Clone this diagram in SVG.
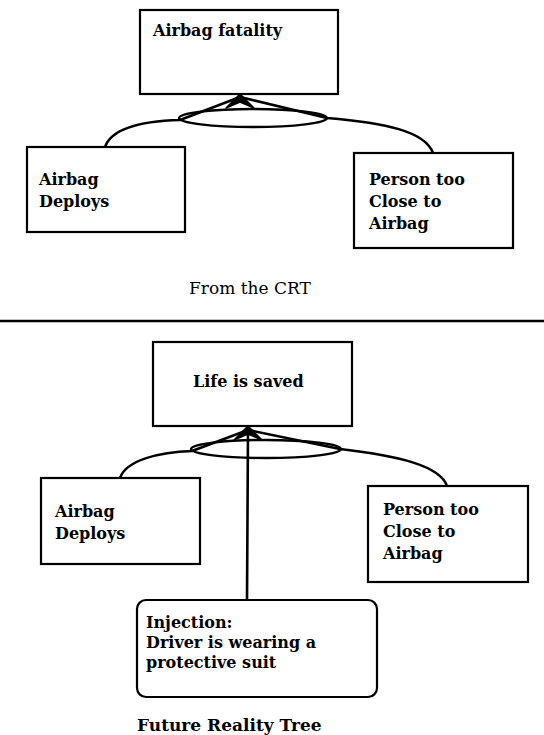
<svg xmlns="http://www.w3.org/2000/svg" width="544" height="735" viewBox="0 0 544 735">
<style>
.box{fill:#fff;stroke:#000;stroke-width:2.2}
.lbl{font-family:"DejaVu Serif","Liberation Serif",serif;font-weight:bold;font-size:16px;fill:#000}
.cap{font-family:"DejaVu Serif","Liberation Serif",serif;font-size:17px;fill:#000}
.con{fill:none;stroke:#000;stroke-width:2.6;stroke-linecap:round;stroke-linejoin:round}
.ell{fill:none;stroke:#000;stroke-width:2.4}
.head{fill:#000;stroke:#000;stroke-width:1.5;stroke-linejoin:round}
</style>
<rect width="544" height="735" fill="#fff"/>
<g id="connectors">
  <path class="con" d="M105,147 C112,127 145,121 180,120 L240,97"/>
  <path class="con" d="M433,153 C425,131 385,123 327,118 L240,97"/>
  <ellipse class="ell" cx="253" cy="118" rx="74" ry="9"/>
  <polygon class="head" points="240,94 226,108 240,102 254,108"/>
  <path class="con" d="M120,478 C126,460 160,452 192,451 L248,430"/>
  <path class="con" d="M447,486 C440,466 400,456 340,449 L248,430"/>
  <path class="con" d="M247,600 L248,430"/>
  <ellipse class="ell" cx="266" cy="449" rx="75" ry="9"/>
  <polygon class="head" points="248,426 234,440 248,434 262,440"/>
</g>
<g id="n_fatality">
  <rect class="box" x="140" y="10" width="198" height="84"/>
  <text class="lbl" x="153" y="36">Airbag fatality</text>
</g>
<g id="n_deploys_top">
  <rect class="box" x="27" y="147" width="158" height="85"/>
  <text class="lbl" x="39" y="185">Airbag</text>
  <text class="lbl" x="39" y="207">Deploys</text>
</g>
<g id="n_person_top">
  <rect class="box" x="354" y="153" width="159" height="95"/>
  <text class="lbl" x="369" y="185">Person too</text>
  <text class="lbl" x="369" y="207">Close to</text>
  <text class="lbl" x="369" y="229">Airbag</text>
</g>
<g id="caption_crt">
  <text class="cap" x="189" y="294">From the CRT</text>
  <line x1="0" y1="321" x2="544" y2="321" stroke="#000" stroke-width="2.5"/>
</g>
<g id="n_life">
  <rect class="box" x="153" y="342" width="199" height="84"/>
  <text class="lbl" x="193" y="387">Life is saved</text>
</g>
<g id="n_deploys_bottom">
  <rect class="box" x="41" y="478" width="159" height="86"/>
  <text class="lbl" x="55" y="517">Airbag</text>
  <text class="lbl" x="55" y="539">Deploys</text>
</g>
<g id="n_person_bottom">
  <rect class="box" x="368" y="486" width="160" height="96"/>
  <text class="lbl" x="383" y="515">Person too</text>
  <text class="lbl" x="383" y="537">Close to</text>
  <text class="lbl" x="383" y="559">Airbag</text>
</g>
<g id="n_injection">
  <rect class="box" x="137" y="600" width="240" height="97" rx="9" ry="9"/>
  <text class="lbl" x="146" y="628">Injection:</text>
  <text class="lbl" x="146" y="648">Driver is wearing a</text>
  <text class="lbl" x="146" y="668">protective suit</text>
</g>
<g id="caption_frt">
  <text class="lbl" x="137" y="731" style="font-size:17px">Future Reality Tree</text>
</g>
</svg>
